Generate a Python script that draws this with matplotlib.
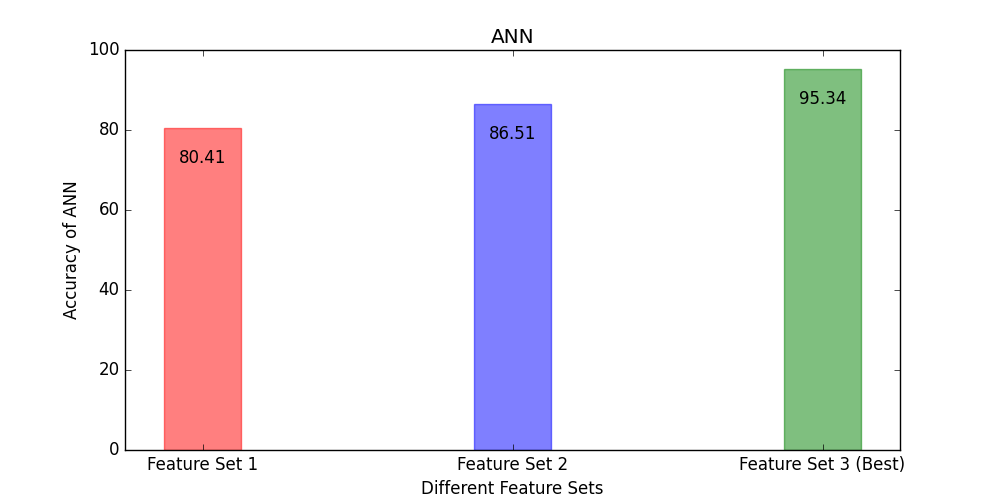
import matplotlib
matplotlib.use('Agg')
import matplotlib.pyplot as plt
import numpy as np

# chart data
feature_sets = ['Feature Set 1', 'Feature Set 2', 'Feature Set 3 (Best)']
accuracy = [80.41, 86.51, 95.34]
bar_colors = ['r', 'b', 'g']

plt.style.use('classic')
plt.rcParams['font.family'] = ['DejaVu Sans']

fig, ax = plt.subplots(figsize=(10, 5), dpi=100)
fig.patch.set_facecolor('white')

idx = np.arange(len(feature_sets))
bars = ax.bar(idx, accuracy, width=0.25, align='center', color=bar_colors,
              edgecolor=bar_colors, alpha=0.5)

for i, h in enumerate(accuracy):
    ax.text(idx[i], h - 7.5, '%.2f' % h, ha='center', va='center', fontsize=12)

ax.set_xlim(-0.25, 2.25)
ax.set_ylim(0, 100)
ax.set_xticks(idx)
ax.set_xticklabels(feature_sets)
ax.set_xlabel('Different Feature Sets')
ax.set_ylabel('Accuracy of ANN')
ax.set_title('ANN')

plt.savefig('out.png', dpi=100, facecolor='white')
